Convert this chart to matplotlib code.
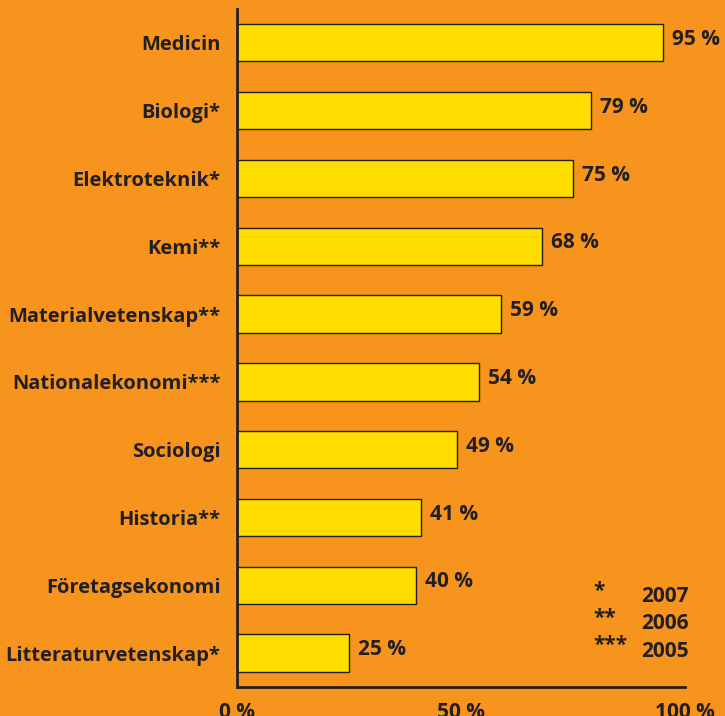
import matplotlib.pyplot as plt

# data
subjects = ['Medicin', 'Biologi*', 'Elektroteknik*', 'Kemi**', 'Materialvetenskap**',
            'Nationalekonomi***', 'Sociologi', 'Historia**', 'Företagsekonomi',
            'Litteraturvetenskap*']
shares = [95, 79, 75, 68, 59, 54, 49, 41, 40, 25]
note_marks = ['*', '**', '***']
note_years = ['2007', '2006', '2005']
x_ticks = [0, 50, 100]

bg = '#F7941D'
bar_col = '#FFDD00'
ink = '#231F20'

plt.rcParams['font.family'] = ['Open Sans', 'DejaVu Sans']

fig = plt.figure(figsize=(7.25, 7.16), dpi=100, facecolor=bg)
ax = fig.add_axes([0.327, 0.0405, 0.618, 0.947])
ax.set_facecolor(bg)

ypos = list(range(len(subjects)))[::-1]
ax.barh(ypos, shares, height=0.55, color=bar_col, edgecolor=ink, linewidth=1.0)

for y, v in zip(ypos, shares):
    ax.text(v + 2, y + 0.05, f'{v} %', va='center', ha='left',
            fontsize=15, fontweight='bold', color=ink)

ax.set_xlim(0, 100)
ax.set_ylim(-0.5, 9.5)
ax.set_yticks(ypos)
ax.set_yticklabels(subjects, fontsize=14.5, fontweight='bold', color=ink)
ax.set_xticks(x_ticks)
ax.set_xticklabels([f'{t} %' for t in x_ticks], fontsize=15, fontweight='bold', color=ink)
ax.tick_params(axis='y', length=0, pad=12)
ax.tick_params(axis='x', length=0, pad=11)

for s in ['top', 'right']:
    ax.spines[s].set_visible(False)
for s in ['left', 'bottom']:
    ax.spines[s].set_linewidth(2)
    ax.spines[s].set_color(ink)

# footnote key
for i, (m, yr) in enumerate(zip(note_marks, note_years)):
    yy = 0.83 - i * 0.4
    ax.text(79.5, yy + 0.08, m, ha='left', va='center', fontsize=15, fontweight='bold', color=ink)
    ax.text(90.2, yy, yr, ha='left', va='center', fontsize=15, fontweight='bold', color=ink)

fig.savefig('out.png', dpi=100, facecolor=bg)
